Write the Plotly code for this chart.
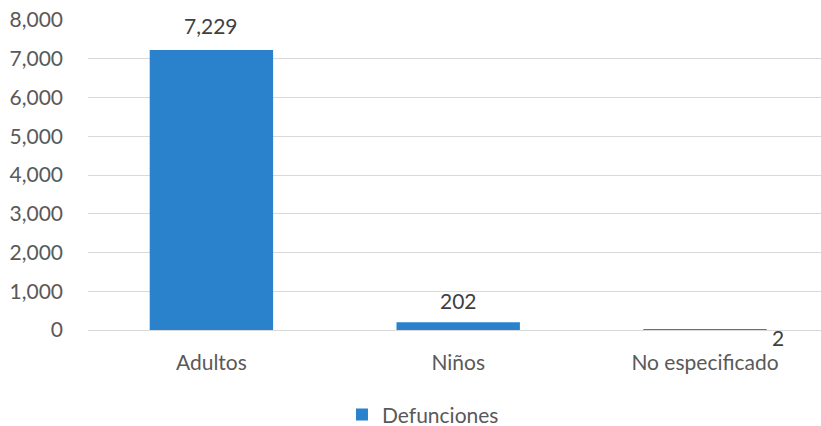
import plotly.graph_objects as go

categories = ["Adultos", "Niños", "No especificado"]
values = [7229, 202, 2]
series_name = "Defunciones"
y_ticks = [0, 1000, 2000, 3000, 4000, 5000, 6000, 7000, 8000]

# label offsets (px) as in reference
label_dx = [0, 0, 73]
label_dy = [24, 22, -8]

FONT = "Lato"
FS = 21
fig = go.Figure()
fig.add_trace(go.Bar(
    x=categories, y=values, name=series_name,
    marker=dict(color="#2A82CC", line=dict(width=0)),
    width=0.5, showlegend=True,
))

for c, v, dx, dy in zip(categories, values, label_dx, label_dy):
    fig.add_annotation(x=c, y=v, text=f"{v:,}", showarrow=False,
                       xshift=dx, yshift=dy, yanchor="middle",
                       font=dict(family=FONT, size=FS, color="#404040"))

fig.update_layout(
    width=821, height=426,
    margin=dict(l=88, r=0, t=20, b=96),
    paper_bgcolor="white", plot_bgcolor="white",
    font=dict(family=FONT, size=FS, color="#595959"),
    bargap=0.5,
    legend=dict(orientation="h", x=0.457, xanchor="center",
                yref="container", y=0.026, yanchor="middle",
                font=dict(family=FONT, size=FS, color="#595959"),
                itemwidth=30),
    xaxis=dict(range=[-0.5, 2.47], showgrid=False, showline=False, ticks="",
               automargin=False,
               ticklabelstandoff=18, tickfont=dict(size=FS, color="#595959")),
    yaxis=dict(range=[0, 8000], tickvals=y_ticks, tickformat=",",
               automargin=False,
               showgrid=True, gridcolor="#D9D9D9", gridwidth=1,
               zeroline=True, zerolinecolor="#D9D9D9", zerolinewidth=1,
               showline=False, ticks="", ticklabelstandoff=24,
               tickfont=dict(size=FS, color="#595959")),
)

fig.write_html("out.html", config={"displayModeBar": False},
               post_script="document.body.style.margin='0';document.body.style.overflow='hidden';")
